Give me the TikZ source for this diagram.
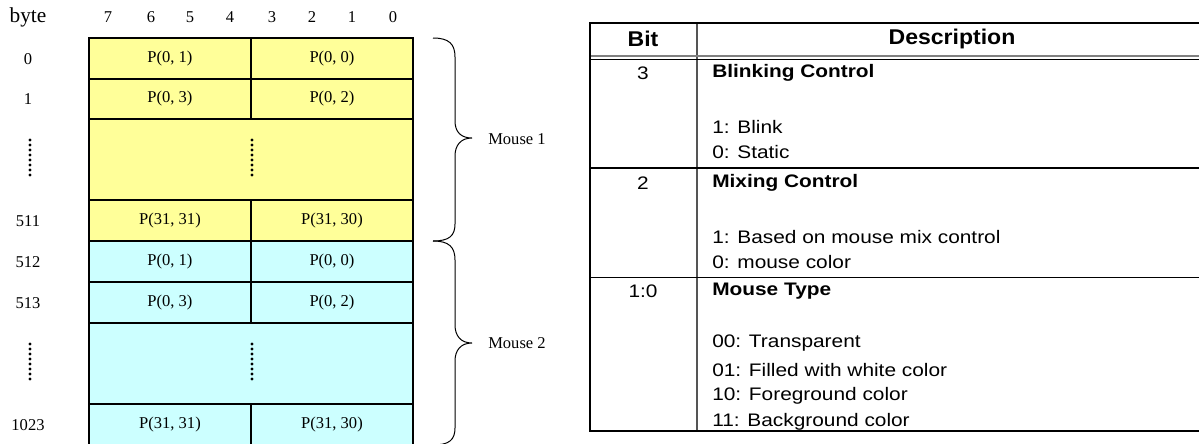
\documentclass[tikz,border=0pt]{standalone}
\usepackage{fontspec}
\setmainfont{Liberation Serif}
\newfontfamily\tabfont[FakeStretch=1.15]{Liberation Sans}
\newfontfamily\headfont[FakeStretch=1.08]{Liberation Sans}
\definecolor{mouseyellow}{HTML}{FFFF99}
\definecolor{mousecyan}{HTML}{CCFFFF}
\definecolor{gridgray}{HTML}{555555}
\tikzset{
  cellbox/.style={draw=black, line width=0.8pt},
  serif/.style={inner sep=0pt, font=\fontsize{12.4}{14}\selectfont},
  bytehead/.style={inner sep=0pt, font=\fontsize{16}{18}\selectfont},
  vdots/.style={line width=2.4pt, dash pattern=on 0pt off 3.75pt, line cap=round},
  bracecurve/.style={line width=0.75pt},
  tabtext/.style={inner sep=0pt, anchor=west, font=\tabfont\fontsize{13.6}{15}\selectfont},
  tabbold/.style={inner sep=0pt, anchor=west, font=\tabfont\bfseries\fontsize{13.6}{15}\selectfont},
  tabnum/.style={inner sep=0pt, font=\tabfont\fontsize{13.6}{15}\selectfont},
  tabhead/.style={inner sep=0pt, font=\headfont\bfseries\fontsize{16}{18}\selectfont},
  outerline/.style={line width=2.2pt, black},
  rowline/.style={line width=1.2pt, black},
}
\begin{document}
\begin{tikzpicture}[x=0.75pt, y=-0.75pt]
\useasboundingbox (0,0) rectangle (1199,443);
% ---------- header ----------
\node[bytehead] (byte) at (28,17) {byte};
\node[serif] (b7) at (108,17) {7};
\node[serif] (b6) at (151,17) {6};
\node[serif] (b5) at (190,17) {5};
\node[serif] (b4) at (230,17) {4};
\node[serif] (b3) at (272,17) {3};
\node[serif] (b2) at (312,17) {2};
\node[serif] (b1) at (352,17) {1};
\node[serif] (b0) at (393,17) {0};
% ---------- Mouse 1 block ----------
\fill[mouseyellow] (89,38) rectangle (413,241);
\draw[cellbox] (89,38) rectangle (251,79);
\draw[cellbox] (251,38) rectangle (413,79);
\draw[cellbox] (89,79) rectangle (251,119);
\draw[cellbox] (251,79) rectangle (413,119);
\draw[cellbox] (89,119) rectangle (413,200);
\draw[cellbox] (89,200) rectangle (251,241);
\draw[cellbox] (251,200) rectangle (413,241);
% ---------- Mouse 2 block ----------
\fill[mousecyan] (89,241) rectangle (413,445);
\draw[cellbox] (89,241) rectangle (251,282);
\draw[cellbox] (251,241) rectangle (413,282);
\draw[cellbox] (89,282) rectangle (251,323);
\draw[cellbox] (251,282) rectangle (413,323);
\draw[cellbox] (89,323) rectangle (413,404);
\draw[cellbox] (89,404) rectangle (251,445);
\draw[cellbox] (251,404) rectangle (413,445);
% cell texts
\node[serif] (c01) at (170,59) {P(0, 1)};
\node[serif] (c00) at (332,59) {P(0, 0)};
\node[serif] (c03) at (170,99) {P(0, 3)};
\node[serif] (c02) at (332,99) {P(0, 2)};
\node[serif] (c3131) at (170,221) {P(31, 31)};
\node[serif] (c3130) at (332,221) {P(31, 30)};
\node[serif] (d01) at (170,262) {P(0, 1)};
\node[serif] (d00) at (332,262) {P(0, 0)};
\node[serif] (d03) at (170,303) {P(0, 3)};
\node[serif] (d02) at (332,303) {P(0, 2)};
\node[serif] (d3131) at (170,425) {P(31, 31)};
\node[serif] (d3130) at (332,425) {P(31, 30)};
% row labels
\node[serif] (r0) at (28,59) {0};
\node[serif] (r1) at (28,99) {1};
\node[serif] (r511) at (28,221) {511};
\node[serif] (r512) at (28,262) {512};
\node[serif] (r513) at (28,303) {513};
\node[serif] (r1023) at (28,425) {1023};
% vertical dots
\draw[vdots] (30,140) -- (30,180);
\draw[vdots] (252,140) -- (252,180);
\draw[vdots] (30,344) -- (30,384);
\draw[vdots] (252,344) -- (252,384);
% braces
\draw[bracecurve] (433,38) .. controls (449,38) and (455,44) .. (455,57) -- (455,121)
  .. controls (455,132) and (461,138) .. (472,138)
  .. controls (461,138) and (455,145) .. (455,156) -- (455,224)
  .. controls (455,236) and (449,241) .. (433,241);
\draw[bracecurve] (433,241) .. controls (449,241) and (455,247) .. (455,260) -- (455,325)
  .. controls (455,336) and (461,343) .. (472,343)
  .. controls (461,343) and (455,350) .. (455,361) -- (455,428)
  .. controls (455,440) and (449,445) .. (433,445);
\node[serif, anchor=west] (m1) at (488,139) {Mouse 1};
\node[serif, anchor=west] (m2) at (488,343) {Mouse 2};
% ---------- right table ----------
\draw[line width=1.2pt, gridgray] (697,23) -- (697,431);
\draw[line width=1.2pt, gray] (590,56) -- (1199,56);
\draw[rowline] (590,59.3) -- (1199,59.3);
\draw[rowline] (590,167.7) -- (1199,167.7);
\draw[rowline] (590,277.3) -- (1199,277.3);
\draw[outerline] (1199,23) -- (590,23) -- (590,431) -- (1199,431);
\node[tabhead] (hbit) at (643,39) {Bit};
\node[tabhead] (hdesc) at (952,39) {Description};
\node[tabnum] (n3) at (643,73) {3};
\node[tabbold] (t3) at (712,73) {Blinking Control};
\node[tabtext] (t3a) at (712,127) {1: Blink};
\node[tabtext] (t3b) at (712,152) {0: Static};
\node[tabnum] (n2) at (643,183) {2};
\node[tabbold] (t2) at (712,183) {Mixing Control};
\node[tabtext] (t2a) at (712,237) {1: Based on mouse mix control};
\node[tabtext] (t2b) at (712,262) {0: mouse color};
\node[tabnum] (n10) at (643,291) {1:0};
\node[tabbold] (t1) at (712,291) {Mouse Type};
\node[tabtext] (t1a) at (712,343) {00: Transparent};
\node[tabtext] (t1b) at (712,370) {01: Filled with white color};
\node[tabtext] (t1c) at (712,396) {10: Foreground color};
\node[tabtext] (t1d) at (712,422) {11: Background color};
\end{tikzpicture}
\end{document}
